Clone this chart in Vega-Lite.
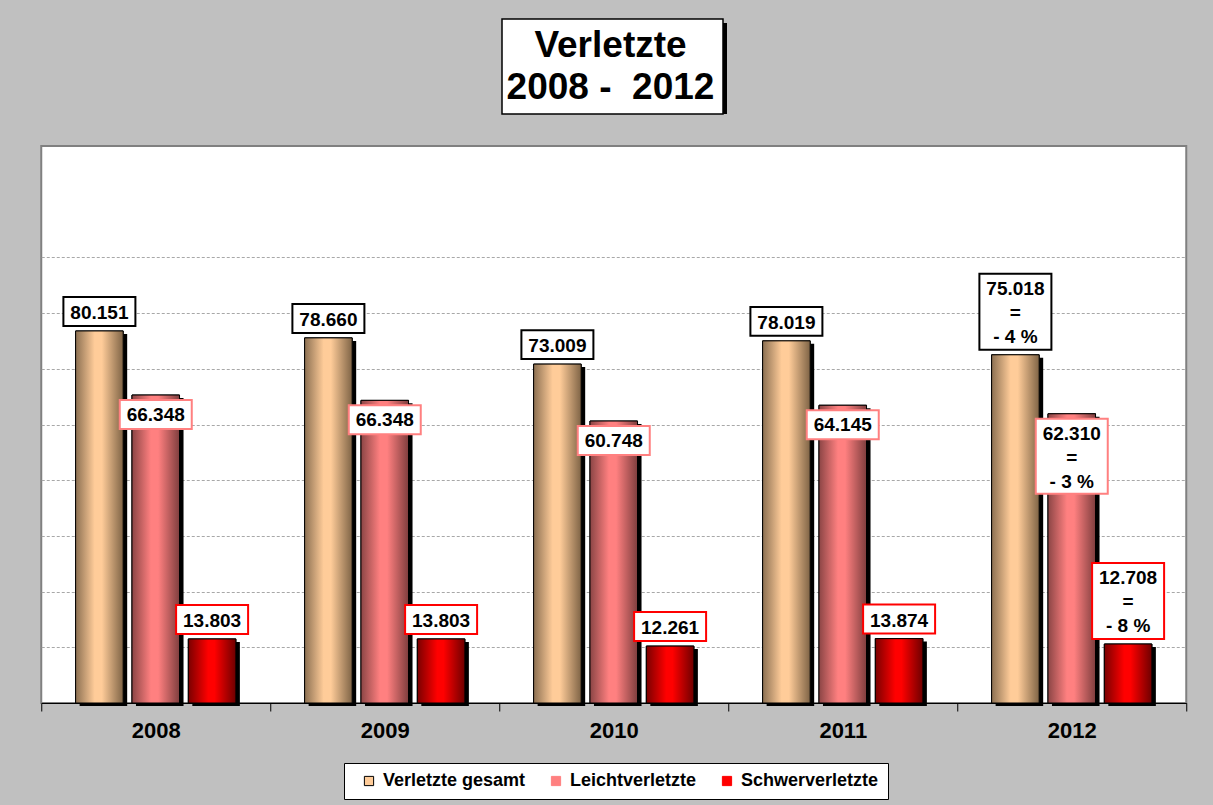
{
  "$schema": "https://vega.github.io/schema/vega-lite/v6.json",
  "background": "#C0C0C0",
  "padding": {"left": 39, "top": 18, "right": 28, "bottom": 8},
  "spacing": 30,
  "center": true,
  "config": {
    "font": "Liberation Sans",
    "view": {"fill": "white", "stroke": "#808080", "strokeWidth": 2}
  },
  "vconcat": [
    {
      "width": 221,
      "height": 95,
      "view": {"stroke": null, "fill": null},
      "data": {"values": [{"t": "Verletzte\n2008 - \u00a02012"}]},
      "layer": [
        {"mark": {"type": "rect", "fill": "black", "xOffset": 4, "yOffset": 4}, "encoding": {}},
        {"mark": {"type": "rect", "fill": "white", "stroke": "black", "strokeWidth": 1.5, "x2Offset": -4, "y2Offset": -4}, "encoding": {}},
        {
          "mark": {"type": "text", "font": "Liberation Sans", "fontSize": 37, "fontWeight": "bold", "lineBreak": "\n", "lineHeight": 42, "align": "center", "baseline": "middle", "dx": -2, "dy": -21, "fill": "black"},
          "encoding": {"text": {"field": "t", "type": "nominal"}}
        }
      ]
    },
    {
      "width": 1145,
      "height": 557,
      "view": {"fill": "white", "stroke": "#808080", "strokeWidth": 2},
      "data": {
        "values": [
          {"year": "2008", "series": "Verletzte gesamt", "value": 80151, "label": "80.151"},
          {"year": "2008", "series": "Leichtverletzte", "value": 66348, "label": "66.348"},
          {"year": "2008", "series": "Schwerverletzte", "value": 13803, "label": "13.803"},
          {"year": "2009", "series": "Verletzte gesamt", "value": 78660, "label": "78.660"},
          {"year": "2009", "series": "Leichtverletzte", "value": 65200, "label": "66.348"},
          {"year": "2009", "series": "Schwerverletzte", "value": 13803, "label": "13.803"},
          {"year": "2010", "series": "Verletzte gesamt", "value": 73009, "label": "73.009"},
          {"year": "2010", "series": "Leichtverletzte", "value": 60748, "label": "60.748"},
          {"year": "2010", "series": "Schwerverletzte", "value": 12261, "label": "12.261"},
          {"year": "2011", "series": "Verletzte gesamt", "value": 78019, "label": "78.019"},
          {"year": "2011", "series": "Leichtverletzte", "value": 64145, "label": "64.145"},
          {"year": "2011", "series": "Schwerverletzte", "value": 13874, "label": "13.874"},
          {"year": "2012", "series": "Verletzte gesamt", "value": 75018, "label": "75.018\n=\n- 4 %"},
          {"year": "2012", "series": "Leichtverletzte", "value": 62310, "label": "62.310\n=\n- 3 %"},
          {"year": "2012", "series": "Schwerverletzte", "value": 12708, "label": "12.708\n=\n- 8 %"}
        ]
      },
      "encoding": {
        "x": {
          "field": "year", "type": "nominal",
          "scale": {"paddingInner": 0, "paddingOuter": 0},
          "axis": {"title": null, "labelFont": "Liberation Sans", "labelFontSize": 22, "labelFontWeight": "bold", "labelColor": "black", "labelPadding": 9, "labelAngle": 0, "domainColor": "black", "domainWidth": 1, "tickColor": "black", "tickSize": 8, "tickBand": "extent", "grid": false}
        },
        "y": {
          "field": "value", "type": "quantitative",
          "scale": {"domain": [0, 120000], "nice": false},
          "axis": {"title": null, "labels": false, "ticks": false, "domain": false, "grid": true, "gridColor": "#A8A8A8", "gridDash": [3, 2], "values": [12000, 24000, 36000, 48000, 60000, 72000, 84000, 96000]}
        }
      },
      "resolve": {"scale": {"xOffset": "independent"}},
      "layer": [
        {
          "mark": {"type": "bar", "fill": "black", "yOffset": 3},
          "encoding": {
            "xOffset": {
              "field": "series", "type": "nominal",
              "scale": {"domain": ["Verletzte gesamt", "Leichtverletzte", "Schwerverletzte"], "paddingInner": 0.156, "paddingOuter": 0.61, "range": [4, 233]}
            }
          }
        },
        {
          "encoding": {
            "xOffset": {
              "field": "series", "type": "nominal",
              "scale": {"domain": ["Verletzte gesamt", "Leichtverletzte", "Schwerverletzte"], "paddingInner": 0.156, "paddingOuter": 0.61}
            }
          },
          "layer": [
            {
              "mark": {"type": "bar", "stroke": "black", "strokeWidth": 1},
              "encoding": {
                "color": {
                  "field": "series", "type": "nominal",
                  "scale": {"domain": ["Verletzte gesamt", "Leichtverletzte", "Schwerverletzte"], "range": ["#FFCC99", "#FF8080", "#FF0000"]},
                  "legend": {"orient": "none", "legendX": 303, "legendY": 744, "direction": "horizontal", "title": "\u00a0", "titleOrient": "left", "titlePadding": 7, "titleFontSize": 18, "fillColor": "white", "strokeColor": "black", "padding": 9, "symbolType": "square", "symbolSize": 85, "symbolStrokeColor": "black", "symbolStrokeWidth": 1, "labelFont": "Liberation Sans", "labelFontSize": 18, "labelFontWeight": "bold", "labelColor": "black", "labelLimit": 300, "columnPadding": 21, "labelOffset": 5}
                }
              }
            },
            {
              "transform": [{"filter": "datum.series === 'Verletzte gesamt'"}],
              "mark": {"type": "bar", "stroke": "black", "strokeWidth": 1, "fill": {"gradient": "linear", "x1": 0, "x2": 1, "y1": 0, "y2": 0, "stops": [{"offset": 0, "color": "#8C7052"}, {"offset": 0.4, "color": "#FFCC99"}, {"offset": 0.55, "color": "#FFCC99"}, {"offset": 1, "color": "#7F6446"}]}}
            },
            {
              "transform": [{"filter": "datum.series === 'Leichtverletzte'"}],
              "mark": {"type": "bar", "stroke": "black", "strokeWidth": 1, "fill": {"gradient": "linear", "x1": 0, "x2": 1, "y1": 0, "y2": 0, "stops": [{"offset": 0, "color": "#8B4545"}, {"offset": 0.4, "color": "#FF8080"}, {"offset": 0.55, "color": "#FF8080"}, {"offset": 1, "color": "#7F3E3E"}]}}
            },
            {
              "transform": [{"filter": "datum.series === 'Schwerverletzte'"}],
              "mark": {"type": "bar", "stroke": "black", "strokeWidth": 1, "fill": {"gradient": "linear", "x1": 0, "x2": 1, "y1": 0, "y2": 0, "stops": [{"offset": 0, "color": "#7A0000"}, {"offset": 0.42, "color": "#FF0000"}, {"offset": 0.55, "color": "#FF0000"}, {"offset": 1, "color": "#6E0000"}]}}
            },
            {
              "transform": [{"filter": "datum.series !== 'Leichtverletzte'"}],
              "mark": {"type": "point", "filled": true, "fill": "white", "opacity": 1, "strokeWidth": 2, "strokeOpacity": 1, "size": 5184},
              "encoding": {
                "stroke": {"field": "series", "type": "nominal", "scale": {"domain": ["Verletzte gesamt", "Leichtverletzte", "Schwerverletzte"], "range": ["#000000", "#FF8080", "#FF0000"]}, "legend": null},
                "shape": {"condition": {"test": "indexof(datum.label, '\\n') >= 0", "value": "M-1,-2.25L1,-2.25L1,-0.139L-1,-0.139Z"}, "value": "M-1,-0.944L1,-0.944L1,-0.139L-1,-0.139Z"}
              }
            },
            {
              "transform": [{"filter": "datum.series === 'Leichtverletzte'"}],
              "mark": {"type": "point", "filled": true, "fill": "white", "opacity": 1, "strokeWidth": 2, "strokeOpacity": 1, "size": 5184},
              "encoding": {
                "stroke": {"field": "series", "type": "nominal", "scale": {"domain": ["Verletzte gesamt", "Leichtverletzte", "Schwerverletzte"], "range": ["#000000", "#FF8080", "#FF0000"]}, "legend": null},
                "shape": {"condition": {"test": "indexof(datum.label, '\\n') >= 0", "value": "M-1,0.139L1,0.139L1,2.222L-1,2.222Z"}, "value": "M-1,0.139L1,0.139L1,0.944L-1,0.944Z"}
              }
            },
            {
              "transform": [{"filter": "datum.series !== 'Leichtverletzte' && indexof(datum.label, '\\n') < 0"}],
              "mark": {"type": "text", "font": "Liberation Sans", "fontSize": 19, "fontWeight": "bold", "fill": "black", "lineBreak": "\n", "lineHeight": 24, "align": "center", "baseline": "bottom", "dy": -8},
              "encoding": {"text": {"field": "label", "type": "nominal"}}
            },
            {
              "transform": [{"filter": "datum.series !== 'Leichtverletzte' && indexof(datum.label, '\\n') >= 0"}],
              "mark": {"type": "text", "font": "Liberation Sans", "fontSize": 19, "fontWeight": "bold", "fill": "black", "lineBreak": "\n", "lineHeight": 24, "align": "center", "baseline": "bottom", "dy": -56},
              "encoding": {"text": {"field": "label", "type": "nominal"}}
            },
            {
              "transform": [{"filter": "datum.series === 'Leichtverletzte'"}],
              "mark": {"type": "text", "font": "Liberation Sans", "fontSize": 19, "fontWeight": "bold", "fill": "black", "lineBreak": "\n", "lineHeight": 24, "align": "center", "baseline": "top", "dy": 11},
              "encoding": {"text": {"field": "label", "type": "nominal"}}
            }
          ]
        }
      ]
    }
  ]
}
